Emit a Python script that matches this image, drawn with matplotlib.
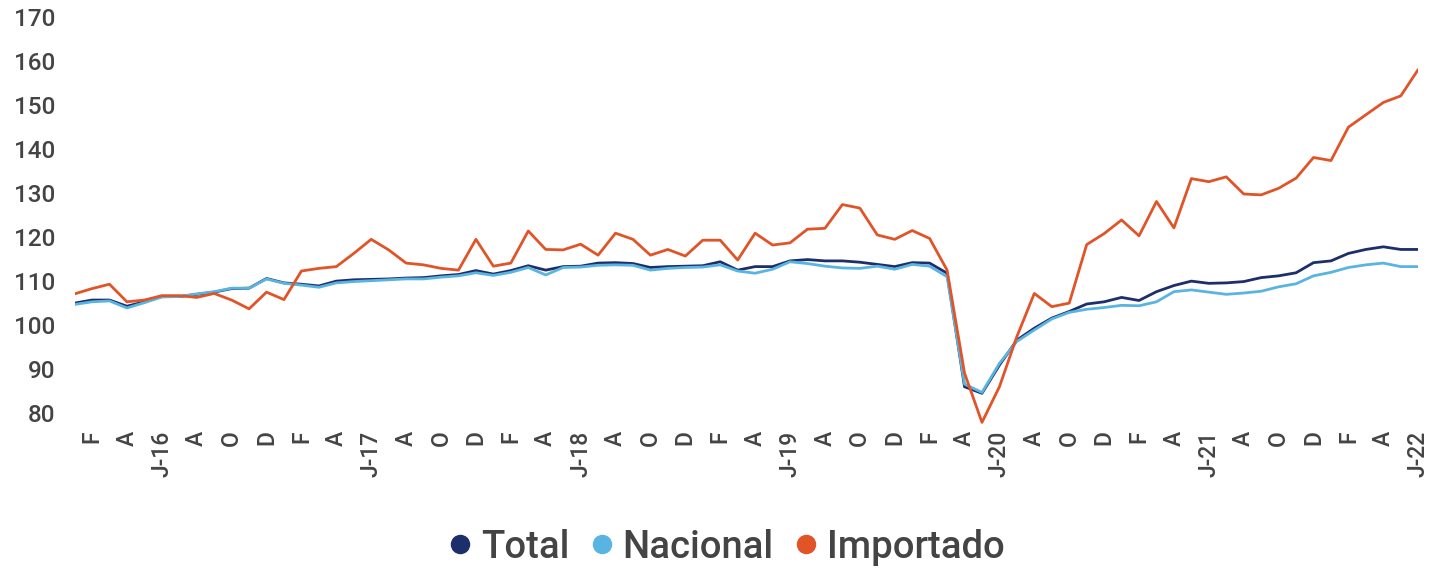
import matplotlib
matplotlib.use("Agg")
import matplotlib.pyplot as plt
from matplotlib.lines import Line2D

plt.rcParams['font.family'] = ['Roboto', 'DejaVu Sans']

# Monthly data, Jan 2016 .. Jun 2022
total = [104.9, 105.6, 105.6, 104.2, 105.2, 106.4, 106.4, 106.9, 107.4, 108.2, 108.3, 110.5,
         109.5, 109.2, 108.8, 109.9, 110.2, 110.3, 110.4, 110.6, 110.7, 111.1, 111.4, 112.3,
         111.5, 112.3, 113.4, 112.4, 113.2, 113.3, 114.0, 114.1, 113.9, 113.0, 113.2, 113.3,
         113.4, 114.3, 112.4, 113.2, 113.2, 114.5, 114.8, 114.5, 114.5, 114.2, 113.7, 113.2,
         114.1, 114.0, 111.7, 85.9, 84.4, 90.8, 96.5, 99.2, 101.5, 103.0, 104.7, 105.2,
         106.2, 105.5, 107.5, 108.9, 109.9, 109.4, 109.5, 109.8, 110.7, 111.1, 111.8, 114.1,
         114.5, 116.2, 117.1, 117.7, 117.1, 117.1]

nacional = [104.6, 105.2, 105.4, 103.8, 105.0, 106.3, 106.4, 107.0, 107.5, 108.3, 108.3, 110.4,
            109.4, 109.0, 108.5, 109.5, 109.8, 110.0, 110.2, 110.4, 110.4, 110.8, 111.1, 111.8,
            111.2, 111.9, 113.0, 111.3, 113.0, 113.1, 113.5, 113.6, 113.5, 112.4, 112.8, 113.0,
            113.1, 113.6, 112.2, 111.7, 112.6, 114.3, 113.9, 113.3, 112.9, 112.8, 113.3, 112.6,
            113.7, 113.3, 110.9, 86.5, 84.6, 91.2, 96.2, 98.8, 101.3, 102.8, 103.5, 103.9,
            104.4, 104.3, 105.2, 107.5, 107.9, 107.4, 106.9, 107.2, 107.6, 108.6, 109.3, 111.1,
            111.9, 113.0, 113.6, 114.0, 113.2, 113.2]

importado = [107.0, 108.2, 109.2, 105.2, 105.6, 106.6, 106.6, 106.2, 107.1, 105.6, 103.6, 107.4,
             105.7, 112.2, 112.8, 113.2, 116.2, 119.4, 117.0, 114.0, 113.6, 112.8, 112.4, 119.4,
             113.3, 114.0, 121.3, 117.1, 117.0, 118.3, 115.8, 120.8, 119.4, 115.8, 117.1, 115.6,
             119.2, 119.2, 114.7, 120.8, 118.1, 118.6, 121.7, 121.9, 127.3, 126.5, 120.4, 119.4,
             121.4, 119.6, 112.4, 89.0, 77.8, 85.9, 97.3, 107.1, 104.1, 104.9, 118.2, 120.7,
             123.8, 120.2, 128.0, 122.0, 133.2, 132.5, 133.6, 129.7, 129.5, 131.0, 133.3, 138.0,
             137.3, 144.9, 147.7, 150.5, 152.0, 158.0]

years = ['16', '17', '18', '19', '20', '21', '22']
month_letters = ['E', 'F', 'M', 'A', 'M', 'J', 'J', 'A', 'S', 'O', 'N', 'D']
y_ticks = [80, 90, 100, 110, 120, 130, 140, 150, 160, 170]

c_total = '#1c2f6b'
c_nac = '#5ab4e2'
c_imp = '#e05428'
c_text = '#444444'

n = len(total)
x = list(range(n))

tick_pos = []
tick_lab = []
for i in range(n):
    m = i % 12
    if m % 2 == 1:
        yr = years[i // 12]
        tick_pos.append(i)
        tick_lab.append(f'J-{yr}' if m == 5 else month_letters[m])

fig = plt.figure(figsize=(14.34, 5.71), dpi=100)
ax = fig.add_axes([0.052, 0.2387, 0.937, 0.7321])

ax.plot(x, total, color=c_total, lw=2.0, solid_joinstyle='round', solid_capstyle='round')
ax.plot(x, nacional, color=c_nac, lw=2.0, solid_joinstyle='round', solid_capstyle='round')
ax.plot(x, importado, color=c_imp, lw=2.0, solid_joinstyle='round', solid_capstyle='round')

ax.set_xlim(0, n - 1)
ax.set_ylim(75, 170)
ax.set_yticks(y_ticks)
ax.set_yticklabels([str(v) for v in y_ticks], fontsize=17.5, color=c_text, fontweight='medium')
ax.set_xticks(tick_pos)
ax.set_xticklabels(tick_lab, rotation=90, fontsize=16.5, color=c_text, va='top', ha='center',
                   fontweight='medium')
ax.tick_params(axis='both', length=0)
ax.tick_params(axis='y', pad=14)
ax.tick_params(axis='x', pad=-3)
for s in ax.spines.values():
    s.set_visible(False)

handles = [Line2D([], [], marker='o', linestyle='none', markersize=13, color=c)
           for c in (c_total, c_nac, c_imp)]
fig.legend(handles, ['Total', 'Nacional', 'Importado'], loc='center',
           bbox_to_anchor=(0.504, 0.042), ncol=3, frameon=False,
           prop={'size': 27.5, 'weight': 'medium'},
           handletextpad=0.05, columnspacing=0.35, labelcolor=c_text, handlelength=1.0)

fig.savefig('out.png', dpi=100)
